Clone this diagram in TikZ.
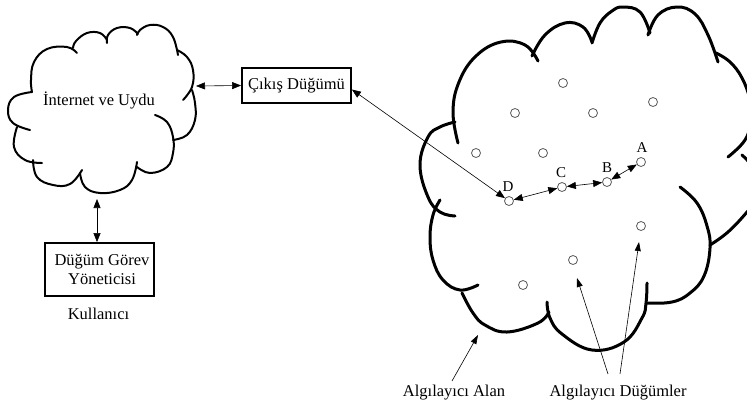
\documentclass[tikz,border=0pt]{standalone}
\usepackage{fontspec}
\setmainfont{Liberation Serif}
\usetikzlibrary{arrows.meta}
\begin{document}
\begin{tikzpicture}[x=1pt,y=-1pt,
  font=\fontsize{16.5}{19}\selectfont,
  bigcloud/.style={line width=3pt, line cap=round},
  smallcloud/.style={line width=2pt, line cap=round},
  box/.style={draw, line width=1.8pt, inner sep=0pt},
  sensor/.style={circle, draw=black!65, line width=0.8pt, minimum size=9pt, inner sep=0pt},
  conn/.style={line width=0.6pt, {Triangle[length=9pt,width=7pt]}-{Triangle[length=9pt,width=7pt]}},
  ann/.style={line width=0.6pt, -{Triangle[length=9pt,width=6pt]}},
  lbl/.style={inner sep=0pt, font=\fontsize{15}{17}\selectfont},
  lobe/.style={smooth, tension=0.7}
]
\useasboundingbox (0,0) rectangle (747,408);
% ---------- small cloud ----------
\begin{scope}[smallcloud]
\draw plot[lobe] coordinates {(32,92)(14,97)(8,110)(13,123)(30,130)};
\draw plot[lobe] coordinates {(17,127)(14,147)(25,160)(42,163)};
\draw plot[lobe] coordinates {(33,160)(37,177)(53,185)(70,184)(82,170)};
\draw plot[lobe] coordinates {(80,173)(85,187)(100,193)(120,190)(132,180)(137,162)};
\draw plot[lobe] coordinates {(137,167)(150,173)(167,167)(173,153)(173,137)(167,122)(155,115)};
\draw plot[lobe] coordinates {(173,140)(187,135)(195,120)(195,103)(192,90)};
\draw plot[lobe] coordinates {(183,100)(192,87)(193,70)(187,57)(177,50)};
\draw plot[lobe] coordinates {(178,55)(173,37)(163,27)(150,25)(140,30)(137,35)};
\draw plot[lobe] coordinates {(138,34)(130,28)(117,28)(108,35)(107,43)};
\draw plot[lobe] coordinates {(107,40)(100,33)(87,33)(76,41)(73,48)};
\draw plot[lobe] coordinates {(77,53)(67,47)(47,49)(34,62)(31,80)(32,92)};
\end{scope}
\node (inet) at (99,100) {İnternet ve Uydu};
\coordinate (cloudE) at (196,86);
\coordinate (cloudS) at (97,199);
% ---------- boxes ----------
\node[box, minimum width=109pt, minimum height=35pt] (cikis) at (296.5,85.5) {Çıkış Düğümü};
\node[box, minimum width=109pt, minimum height=53pt, align=center, font=\fontsize{16.5}{19}\selectfont] (dgy) at (99.5,269.5) {\hspace*{5pt}Düğüm Görev\\\hspace*{5pt}Yöneticisi};
\node (kul) at (98.5,314) {Kullanıcı};
\draw[conn] (cloudE) -- (cikis.west);
\draw[conn] (cloudS) -- (cloudS |- dgy.north);
% ---------- big cloud ----------
\begin{scope}
\clip (0,0) rectangle (747,408);
\begin{scope}[bigcloud]
\draw plot[lobe] coordinates {(458,143)(453,112)(459,82)(476,56)(501,42)(525,45)(538,61)};
\draw plot[lobe] coordinates {(532,56)(545,35)(565,23)(583,27)(592,42)};
\draw plot[lobe] coordinates {(592,43)(600,23)(612,11)(623,7)(640,12)(650,33)};
\draw plot[lobe] coordinates {(648,35)(658,15)(677,7)(695,14)(708,35)(718,62)};
\draw plot[lobe] coordinates {(716,53)(730,62)(742,78)(750,100)(751,120)(745,140)(728,157)};
\draw plot[lobe] coordinates {(742,155)(758,175)(757,198)(747,212)(728,232)(710,245)};
\draw plot[lobe] coordinates {(680,187)(697,203)(707,226)(710,248)(704,276)(690,293)(672,302)(647,303)};
\draw plot[lobe] coordinates {(647,283)(646,303)(642,318)(624,342)(592,350)(562,334)(550,318)(547,302)};
\draw plot[lobe] coordinates {(549,312)(538,323)(507,332)(485,325)(473,313)(462,293)};
\draw plot[lobe] coordinates {(478,285)(460,290)(443,280)(433,260)(430,237)(433,215)(440,200)};
\draw plot[lobe] coordinates {(455,216)(440,212)(428,197)(420,165)(428,137)(440,127)(455,122)};
\end{scope}
\end{scope}
% ---------- sensors ----------
\node[sensor] (s1) at (563,83) {};
\node[sensor] (s2) at (515,113) {};
\node[sensor] (s3) at (593,113) {};
\node[sensor] (s4) at (653,102) {};
\node[sensor] (s5) at (476,153) {};
\node[sensor] (s6) at (543,153) {};
\node[sensor] (A) at (641,162) {};
\node[sensor] (B) at (607,182) {};
\node[sensor] (C) at (562,187) {};
\node[sensor] (D) at (509,201) {};
\node[sensor] (s7) at (641,226) {};
\node[sensor] (s8) at (573,260) {};
\node[sensor] (s9) at (523,285) {};
\node[lbl] (lA) at (642,148) {A};
\node[lbl] (lB) at (607,168) {B};
\node[lbl] (lC) at (561,173) {C};
\node[lbl] (lD) at (508,187) {D};
\draw[conn] (D) -- (C);
\draw[conn] (C) -- (B);
\draw[conn] (B) -- (A);
\draw[conn] ([yshift=-4pt]cikis.east) -- (D);
% ---------- bottom labels ----------
\node (alan) at (454,393) {Algılayıcı Alan};
\node (dug) at (618,393) {Algılayıcı Düğümler};
\coordinate (alantip) at (478,335);
\coordinate (tip1) at (577,278);
\coordinate (tip2) at (639,242);
\draw[ann] ([xshift=-2pt,yshift=1pt]alan.north) -- (alantip);
\draw[ann] ([xshift=-10pt,yshift=8pt]dug.north) -- (tip1);
\draw[ann] ([xshift=2pt,yshift=8pt]dug.north) -- (tip2);
\end{tikzpicture}
\end{document}
